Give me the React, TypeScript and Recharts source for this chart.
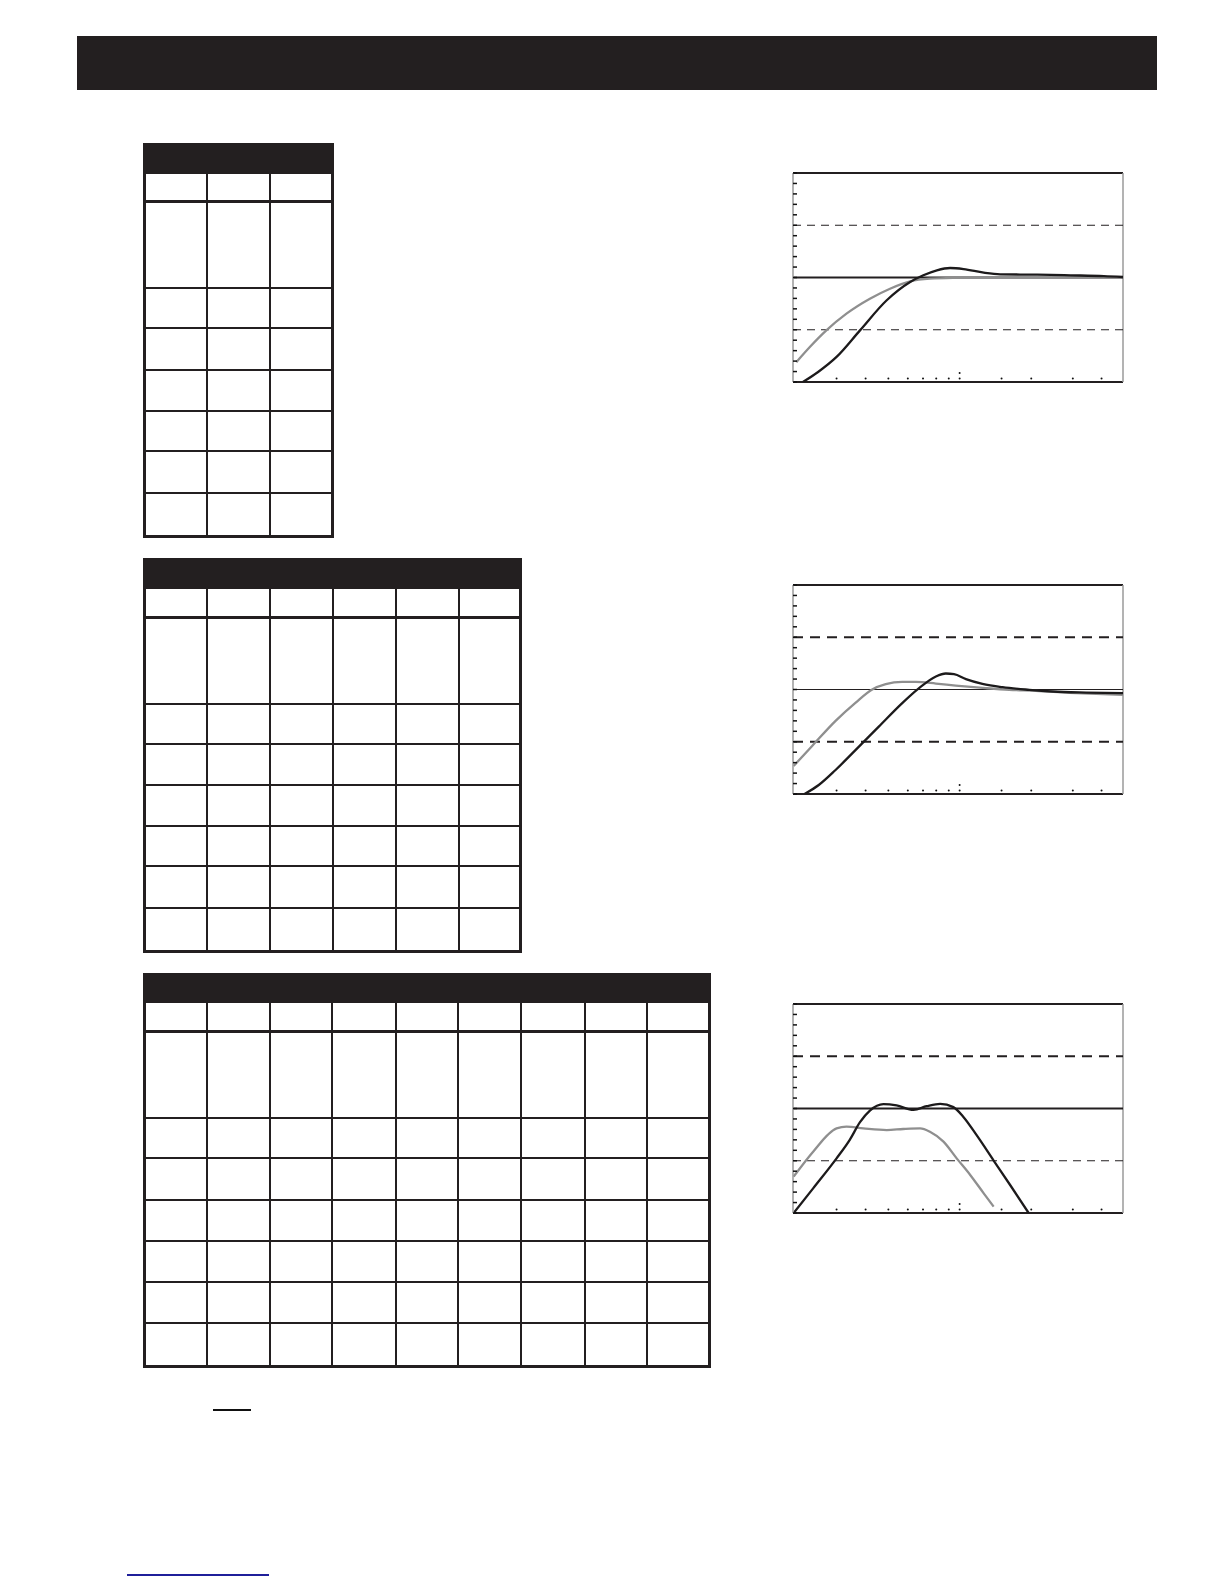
import { LineChart, Line, XAxis, YAxis, ReferenceLine, ReferenceDot } from 'recharts'

// x in percent of the plot width, y in dB
const xDomain = [0, 100]
const yDomain = [-10, 10]
const yTicks = [-10, -9, -8, -7, -6, -5, -4, -3, -2, -1, 0, 1, 2, 3, 4, 5, 6, 7, 8, 9, 10]
const xDots = [13.2, 22.0, 28.9, 34.8, 39.4, 43.4, 47.2, 50.5, 63.2, 72.2, 84.8, 93.5]
const xDotsUpper = [50.5]

const gray1 = [
  { x: 1.0, y: -8.1 }, { x: 5.1, y: -6.65 }, { x: 10.1, y: -5.06 }, { x: 16.2, y: -3.46 },
  { x: 23.3, y: -2.03 }, { x: 29.4, y: -1.07 }, { x: 35.5, y: -0.37 }, { x: 41.5, y: -0.11 },
  { x: 49.6, y: -0.02 }, { x: 63.8, y: 0.03 }, { x: 100, y: 0.03 },
]
const black1 = [
  { x: 3.0, y: -10 }, { x: 7.6, y: -9.04 }, { x: 13.2, y: -7.6 }, { x: 20.3, y: -5.06 },
  { x: 28.4, y: -2.18 }, { x: 35.5, y: -0.43 }, { x: 39.5, y: 0.21 }, { x: 43.6, y: 0.69 },
  { x: 47.6, y: 0.91 }, { x: 51.7, y: 0.81 }, { x: 57.8, y: 0.46 }, { x: 62.8, y: 0.3 },
  { x: 74.0, y: 0.27 }, { x: 84.1, y: 0.21 }, { x: 94.2, y: 0.14 }, { x: 100, y: 0.05 },
]

const gray2 = [
  { x: 0.2, y: -7.32 }, { x: 5.8, y: -5.4 }, { x: 12.9, y: -3.0 }, { x: 19, y: -1.25 },
  { x: 24, y: 0 }, { x: 28.1, y: 0.51 }, { x: 33.1, y: 0.73 }, { x: 37.2, y: 0.73 },
  { x: 43.3, y: 0.57 }, { x: 49.3, y: 0.38 }, { x: 58.4, y: 0.13 }, { x: 65.5, y: -0.03 },
  { x: 73.6, y: -0.13 }, { x: 83.8, y: -0.32 }, { x: 93.9, y: -0.45 }, { x: 100, y: -0.51 },
]
const black2 = [
  { x: 3.5, y: -10 }, { x: 7.8, y: -9.14 }, { x: 12.9, y: -7.7 }, { x: 19, y: -5.78 },
  { x: 26, y: -3.55 }, { x: 33.1, y: -1.3 }, { x: 38.2, y: 0.13 }, { x: 43.3, y: 1.25 },
  { x: 46.3, y: 1.53 }, { x: 48.8, y: 1.47 }, { x: 52.4, y: 0.99 }, { x: 57.4, y: 0.54 },
  { x: 63.5, y: 0.22 }, { x: 71.6, y: -0.03 }, { x: 78.7, y: -0.19 }, { x: 88.8, y: -0.29 },
  { x: 100, y: -0.35 },
]

const gray3 = [
  { x: 0.2, y: -6.52 }, { x: 6.1, y: -4.13 }, { x: 13.2, y: -1.9 }, { x: 16.2, y: -1.74 },
  { x: 21.3, y: -1.9 }, { x: 28.4, y: -2.06 }, { x: 33.4, y: -1.96 }, { x: 38.5, y: -1.9 },
  { x: 41.5, y: -2.22 }, { x: 45.6, y: -3.17 }, { x: 49.6, y: -4.77 }, { x: 53.7, y: -6.36 },
  { x: 57.8, y: -8.12 }, { x: 60.8, y: -9.39 },
]
const black3 = [
  { x: 0.2, y: -10 }, { x: 6.1, y: -7.64 }, { x: 13.2, y: -4.77 }, { x: 17.2, y: -3.0 },
  { x: 20.3, y: -1.31 }, { x: 23.3, y: -0.2 }, { x: 27.4, y: 0.41 }, { x: 31.4, y: 0.29 },
  { x: 36.5, y: -0.13 }, { x: 40.5, y: 0.22 }, { x: 44.6, y: 0.45 }, { x: 48.6, y: 0.13 },
  { x: 51.7, y: -0.83 }, { x: 55.7, y: -2.58 }, { x: 60.8, y: -4.98 }, { x: 65.9, y: -7.37 },
  { x: 71.4, y: -10 },
]

const INK = '#231f20'

type Pt = { x: number; y: number }
type RefStyle = { width: number; dash?: string }

// tick marks only, the reference prints no tick labels
const NoLabel = () => <g />

function ResponseChart({ top, gray, black, upper, zero, lower }: {
  top: number; gray: Pt[]; black: Pt[]; upper: RefStyle; zero: RefStyle; lower: RefStyle
}) {
  return (
    <div style={{ position: 'absolute', left: 791, top: top - 3 }}>
      <LineChart width={335} height={215} margin={{ top: 3, right: 3, bottom: 3, left: 2 }}>
        <XAxis type="number" dataKey="x" domain={xDomain} hide allowDataOverflow />
        <YAxis
          type="number"
          domain={yDomain}
          ticks={yTicks}
          interval={0}
          width={1}
          mirror
          tick={NoLabel}
          tickSize={4}
          tickLine={{ stroke: '#111', strokeWidth: 1.5 }}
          axisLine={{ stroke: '#9a9a9a', strokeWidth: 1.5 }}
          allowDataOverflow
        />
        <ReferenceLine y={10} stroke={INK} strokeWidth={2} />
        <ReferenceLine y={-10} stroke={INK} strokeWidth={2} />
        <ReferenceLine x={100} stroke="#9a9a9a" strokeWidth={1.5} />
        <ReferenceLine y={5} stroke={INK} strokeWidth={upper.width} strokeDasharray={upper.dash} />
        <ReferenceLine y={0} stroke={INK} strokeWidth={zero.width} strokeDasharray={zero.dash} />
        <ReferenceLine y={-5} stroke={INK} strokeWidth={lower.width} strokeDasharray={lower.dash} />
        {xDots.map((d) => (
          <ReferenceDot key={d} x={d} y={-9.67} r={1} fill="#111" stroke="none" />
        ))}
        {xDotsUpper.map((d) => (
          <ReferenceDot key={'u' + d} x={d} y={-9.14} r={1} fill="#111" stroke="none" />
        ))}
        <Line data={gray} dataKey="y" type="monotone" stroke="#8f8f8f" strokeWidth={2.3} dot={false} isAnimationActive={false} />
        <Line data={black} dataKey="y" type="monotone" stroke="#1c1a1b" strokeWidth={2.3} dot={false} isAnimationActive={false} />
      </LineChart>
    </div>
  )
}

type TableSpec = {
  left: number; right: number; top: number; headBottom: number; thick: number
  rows: number[]; bottom: number; cols: number[]
}

const table1: TableSpec = {
  left: 143, right: 334, top: 143, headBottom: 174, thick: 201,
  rows: [288, 328, 370, 411, 451, 493], bottom: 538, cols: [207, 270],
}
const table2: TableSpec = {
  left: 143, right: 522, top: 558, headBottom: 589, thick: 617,
  rows: [704, 744, 785, 826, 866, 908], bottom: 953, cols: [207, 270, 333, 396, 459],
}
const table3: TableSpec = {
  left: 143, right: 711, top: 973, headBottom: 1003, thick: 1031,
  rows: [1118, 1158, 1200, 1241, 1282, 1323], bottom: 1368,
  cols: [207, 270, 332, 396, 458, 521, 585, 647],
}

function GridTable({ t }: { t: TableSpec }) {
  const w = t.right - t.left
  return (
    <>
      <div style={{ position: 'absolute', left: t.left, top: t.top, width: w, height: t.bottom - t.top, border: `3px solid ${INK}`, boxSizing: 'border-box' }} />
      <div style={{ position: 'absolute', left: t.left, top: t.top, width: w, height: t.headBottom - t.top, background: INK }} />
      <div style={{ position: 'absolute', left: t.left, top: t.thick - 1.5, width: w, height: 3, background: INK }} />
      {t.rows.map((r) => (
        <div key={r} style={{ position: 'absolute', left: t.left, top: r - 0.75, width: w, height: 1.5, background: INK }} />
      ))}
      {t.cols.map((c) => (
        <div key={c} style={{ position: 'absolute', left: c - 1, top: t.headBottom, width: 2, height: t.bottom - t.headBottom, background: INK }} />
      ))}
    </>
  )
}

export default function App() {
  return (
    <div style={{ position: 'absolute', left: 0, top: 0, width: 1224, height: 1584, background: '#fff', overflow: 'hidden' }}>
      <div style={{ position: 'absolute', left: 77, top: 36, width: 1080, height: 54, background: INK }} />
      <GridTable t={table1} />
      <GridTable t={table2} />
      <GridTable t={table3} />
      <ResponseChart
        top={173}
        gray={gray1}
        black={black1}
        upper={{ width: 1.2, dash: '8 6' }}
        zero={{ width: 2 }}
        lower={{ width: 1.2, dash: '8 6' }}
      />
      <ResponseChart
        top={585}
        gray={gray2}
        black={black2}
        upper={{ width: 2, dash: '10 7' }}
        zero={{ width: 1 }}
        lower={{ width: 2, dash: '10 7' }}
      />
      <ResponseChart
        top={1004}
        gray={gray3}
        black={black3}
        upper={{ width: 2, dash: '10 7' }}
        zero={{ width: 2 }}
        lower={{ width: 1.2, dash: '8 6' }}
      />
      <div style={{ position: 'absolute', left: 213, top: 1409, width: 38, height: 1.5, background: '#111' }} />
      <div style={{ position: 'absolute', left: 127, top: 1574, width: 142, height: 1.5, background: '#1f1f9a' }} />
    </div>
  )
}
